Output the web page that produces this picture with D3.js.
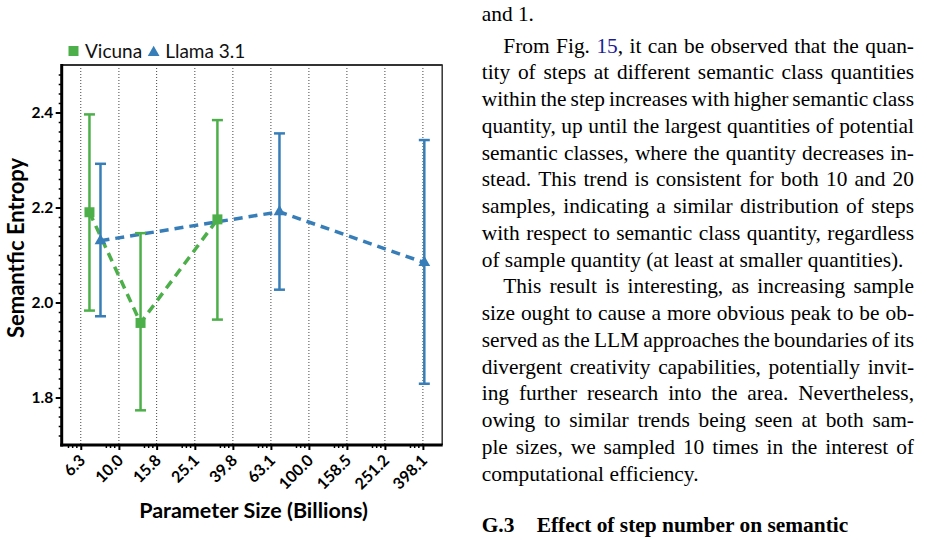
<!DOCTYPE html>
<html>
<head>
<meta charset="utf-8">
<script src="https://cdn.jsdelivr.net/npm/d3@7"></script>
<style>
  body { margin: 0; background: #fff; }
  svg { display: block; }
</style>
</head>
<body>
<div id="page"></div>
<script>
// ---- chart data ----
const vicunaSize = [7, 13, 33];
const vicunaMean = [2.190, 1.957, 2.175];
const vicunaLow  = [1.983, 1.773, 1.964];
const vicunaHigh = [2.396, 2.146, 2.384];

const llamaSize = [8, 70, 405];
const llamaMean = [2.130, 2.191, 2.084];
const llamaLow  = [1.971, 2.027, 1.829];
const llamaHigh = [2.292, 2.356, 2.342];

const xTicks = [6.3, 10.0, 15.8, 25.1, 39.8, 63.1, 100.0, 158.5, 251.2, 398.1];
const yTicks = [1.8, 2.0, 2.2, 2.4];
const seriesNames = ["Vicuna", "Llama 3.1"];

// ---- paper text beside the figure ----
const bodyLines = [
    ["and 1.", 0, false],
    ["From Fig. [15], it can be observed that the quan-", 1, true],
    ["tity of steps at different semantic class quantities", 0, true],
    ["within the step increases with higher semantic class", 0, true],
    ["quantity, up until the largest quantities of potential", 0, true],
    ["semantic classes, where the quantity decreases in-", 0, true],
    ["stead. This trend is consistent for both 10 and 20", 0, true],
    ["samples, indicating a similar distribution of steps", 0, true],
    ["with respect to semantic class quantity, regardless", 0, true],
    ["of sample quantity (at least at smaller quantities).", 0, false],
    ["This result is interesting, as increasing sample", 1, true],
    ["size ought to cause a more obvious peak to be ob-", 0, true],
    ["served as the LLM approaches the boundaries of its", 0, true],
    ["divergent creativity capabilities, potentially invit-", 0, true],
    ["ing further research into the area. Nevertheless,", 0, true],
    ["owing to similar trends being seen at both sam-", 0, true],
    ["ple sizes, we sampled 10 times in the interest of", 0, true],
    ["computational efficiency.", 0, false]
];
const headingNum = "G.3";
const headingText = "Effect of step number on semantic";

const width = 927, height = 540;
const svg = d3.select("#page").append("svg")
    .attr("width", width)
    .attr("height", height);

const green = "#4daf4a", blue = "#377eb8";
const sansFont = "Lato, 'Open Sans', sans-serif";

// plot area
const pLeft = 61.7, pRight = 441.7, pTop = 65, pBottom = 445;
const x = d3.scaleLog().domain([5, 500]).range([pLeft, pRight]);
const y = d3.scaleLinear().domain([1.7, 2.5]).range([pBottom, pTop]);

// dotted vertical grid
svg.append("g")
    .selectAll("line")
    .data(xTicks)
    .enter().append("line")
    .attr("x1", d => x(d)).attr("x2", d => x(d))
    .attr("y1", pTop).attr("y2", pBottom)
    .attr("stroke", "#444")
    .attr("stroke-width", 1)
    .attr("stroke-dasharray", "1,2");

// frame top / right
svg.append("line")
    .attr("x1", pLeft).attr("x2", pRight + 1)
    .attr("y1", pTop).attr("y2", pTop)
    .attr("stroke", "#333").attr("stroke-width", 2);
svg.append("line")
    .attr("x1", pRight + 0.5).attr("x2", pRight + 0.5)
    .attr("y1", pTop).attr("y2", pBottom)
    .attr("stroke", "#333").attr("stroke-width", 1.5);

// y axis: minor + major ticks
const yMinor = d3.range(172, 250, 2).map(v => v / 100)
    .filter(v => !yTicks.some(t => Math.abs(t - v) < 1e-6));
svg.append("g")
    .attr("transform", `translate(${pLeft},0)`)
    .call(d3.axisLeft(y).tickValues(yMinor).tickSize(3).tickFormat(""))
    .call(g => g.select(".domain").remove())
    .call(g => g.selectAll("line").attr("stroke", "#000").attr("stroke-width", 1.5));

const yAxis = svg.append("g")
    .attr("transform", `translate(${pLeft},0)`)
    .call(d3.axisLeft(y).tickValues(yTicks).tickSize(6).tickFormat(d3.format(".1f")));
yAxis.select(".domain").remove();
yAxis.selectAll("line").attr("stroke", "#000").attr("stroke-width", 2);
yAxis.selectAll("text")
    .attr("x", -8.5)
    .style("font-family", sansFont)
    .style("font-weight", "bold")
    .style("font-size", "15.5px")
    .attr("fill", "#000");

// x axis: minor ticks clustered before each major (as in the figure)
const xMinor = [];
[3.981].concat(xTicks).forEach(m => {
    [0.66, 0.77, 0.88].forEach(f => {
        const v = m * Math.pow(10, 0.2 * f);
        if (v > 5 && v < 500) xMinor.push(v);
    });
});
svg.append("g")
    .attr("transform", `translate(0,${pBottom})`)
    .call(d3.axisBottom(x).tickValues(xMinor).tickSize(3).tickFormat(""))
    .call(g => g.select(".domain").remove())
    .call(g => g.selectAll("line").attr("stroke", "#000").attr("stroke-width", 1.5));

const xAxis = svg.append("g")
    .attr("transform", `translate(0,${pBottom})`)
    .call(d3.axisBottom(x).tickValues(xTicks).tickSize(5).tickFormat(d3.format(".1f")));
xAxis.select(".domain").remove();
xAxis.selectAll("line").attr("stroke", "#000").attr("stroke-width", 2);
xAxis.selectAll("text")
    .attr("x", 5)
    .attr("y", 16.5)
    .attr("dy", 0)
    .attr("text-anchor", "end")
    .attr("transform", "rotate(-45, 5, 16.5)")
    .style("font-family", sansFont)
    .style("font-weight", "bold")
    .style("font-size", "16px")
    .attr("fill", "#000");

// axis lines
svg.append("line")
    .attr("x1", pLeft).attr("x2", pLeft)
    .attr("y1", pTop - 1).attr("y2", pBottom + 1.5)
    .attr("stroke", "#000").attr("stroke-width", 3);
svg.append("line")
    .attr("x1", pLeft - 1.5).attr("x2", pRight + 1)
    .attr("y1", pBottom).attr("y2", pBottom)
    .attr("stroke", "#000").attr("stroke-width", 3);

// axis titles
svg.append("text")
    .attr("transform", "translate(23.5,248) rotate(-90)")
    .attr("text-anchor", "middle")
    .style("font-family", sansFont)
    .style("font-weight", "bold")
    .style("font-size", "22px")
    .text("Semantfic Entropy");

svg.append("text")
    .attr("x", 253.5)
    .attr("y", 517.5)
    .attr("text-anchor", "middle")
    .style("font-family", sansFont)
    .style("font-weight", "bold")
    .style("font-size", "21.5px")
    .text("Parameter Size (Billions)");

// series
const vicuna = vicunaSize.map((s, i) => ({size: s, mean: vicunaMean[i], low: vicunaLow[i], high: vicunaHigh[i]}));
const llama = llamaSize.map((s, i) => ({size: s, mean: llamaMean[i], low: llamaLow[i], high: llamaHigh[i]}));
const series = [
    {name: seriesNames[0], data: vicuna, color: green, symbol: d3.symbolSquare, symSize: 100},
    {name: seriesNames[1], data: llama, color: blue, symbol: d3.symbolTriangle, symSize: 60}
];

const line = d3.line().x(d => x(d.size)).y(d => y(d.mean));

series.forEach(s => {
    svg.append("path")
        .datum(s.data)
        .attr("d", line)
        .attr("fill", "none")
        .attr("stroke", s.color)
        .attr("stroke-width", 3.5)
        .attr("stroke-dasharray", "9,6");
});

series.forEach(s => {
    const eb = svg.append("g").attr("stroke", s.color).attr("stroke-width", 2.5);
    eb.selectAll(".stem")
        .data(s.data)
        .enter().append("line")
        .attr("x1", d => x(d.size)).attr("x2", d => x(d.size))
        .attr("y1", d => y(d.low)).attr("y2", d => y(d.high));
    eb.selectAll(".capHi")
        .data(s.data)
        .enter().append("line")
        .attr("x1", d => x(d.size) - 5.5).attr("x2", d => x(d.size) + 5.5)
        .attr("y1", d => y(d.high)).attr("y2", d => y(d.high));
    eb.selectAll(".capLo")
        .data(s.data)
        .enter().append("line")
        .attr("x1", d => x(d.size) - 5.5).attr("x2", d => x(d.size) + 5.5)
        .attr("y1", d => y(d.low)).attr("y2", d => y(d.low));
});

series.forEach(s => {
    svg.append("g")
        .selectAll("path")
        .data(s.data)
        .enter().append("path")
        .attr("transform", d => `translate(${x(d.size)},${y(d.mean)})`)
        .attr("d", d3.symbol(s.symbol, s.symSize))
        .attr("fill", s.color);
});

// legend above the plot
const legend = svg.append("g");
let lx = 68;
series.forEach(s => {
    legend.append("path")
        .attr("transform", `translate(${lx + 5.5},${s.symbol === d3.symbolSquare ? 51 : 52.5})`)
        .attr("d", d3.symbol(s.symbol, s.symSize))
        .attr("fill", s.color);
    const t = legend.append("text")
        .attr("x", lx + 17)
        .attr("y", 58.3)
        .style("font-family", sansFont)
        .style("font-size", "19px")
        .attr("fill", "#111")
        .text(s.name);
    lx += 17 + t.node().getComputedTextLength() + 6;
});

// ---- paper text column ----
const serif = "'Liberation Serif', 'Times New Roman', serif";
const fs = 21.4;
const colLeft = 481.7, colRight = 914, indent = 21.6;
const firstBase = 20.7, secondBase = 52.5, lineStep = 26.75;

const measure = svg.append("text")
    .style("font-family", serif)
    .style("font-size", fs + "px")
    .attr("visibility", "hidden");
const wordWidth = w => measure.text(w.replace(/[\[\]]/g, "")).node().getComputedTextLength();
const spaceWidth = wordWidth("a a") - wordWidth("aa");

const textCol = svg.append("g")
    .style("font-family", serif)
    .style("font-size", fs + "px")
    .attr("fill", "#000");

bodyLines.forEach((l, i) => {
    const [str, ind, justify] = l;
    const words = str.split(/ +/);
    const widths = words.map(wordWidth);
    const x0 = colLeft + ind * indent;
    const gap = justify && words.length > 1
        ? (colRight - x0 - d3.sum(widths)) / (words.length - 1)
        : spaceWidth;
    const base = i === 0 ? firstBase : secondBase + (i - 1) * lineStep;
    const t = textCol.append("text").attr("y", base);
    let px = x0;
    words.forEach((w, k) => {
        const m = w.match(/^(.*)\[(.*)\](.*)$/);
        if (m) {
            const link = t.append("tspan").attr("x", px);
            if (m[1]) {
                link.text(m[1]);
                t.append("tspan").attr("fill", "#1c1c96").text(m[2]);
            } else {
                link.attr("fill", "#1c1c96").text(m[2]);
            }
            if (m[3]) t.append("tspan").text(m[3]);
        } else {
            t.append("tspan").attr("x", px).text(w);
        }
        px += widths[k] + gap;
    });
});

const headY = 531.5;
textCol.append("text")
    .attr("x", colLeft).attr("y", headY)
    .style("font-weight", "bold")
    .text(headingNum);
textCol.append("text")
    .attr("x", 536.7).attr("y", headY)
    .style("font-weight", "bold")
    .text(headingText);

measure.remove();
</script>
</body>
</html>
